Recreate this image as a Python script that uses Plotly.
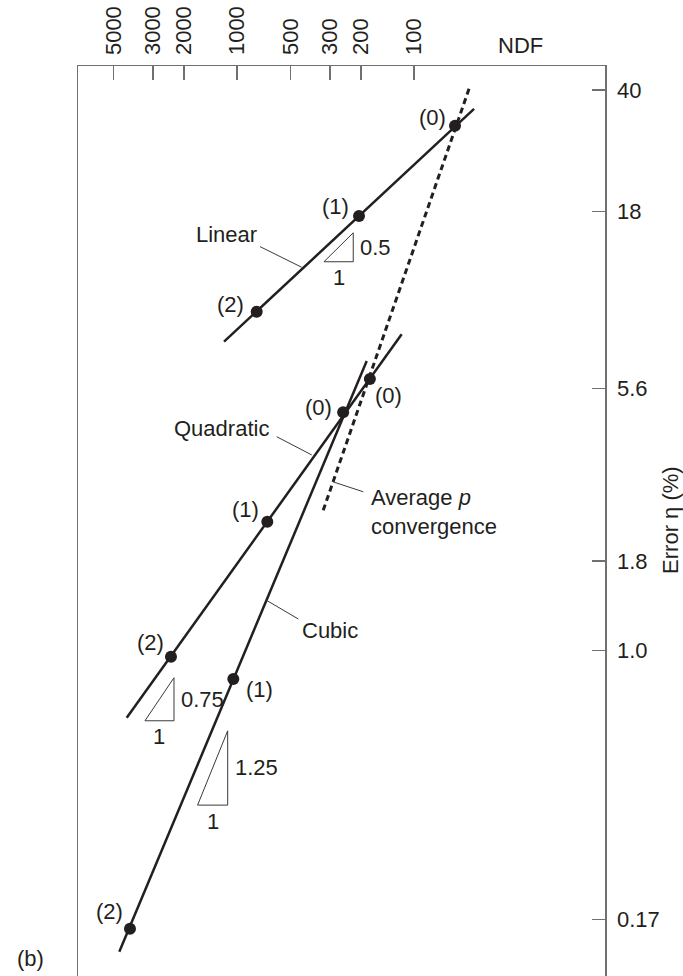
import numpy as np
import plotly.graph_objects as go

# ---------------- data ----------------
refinement_labels = ["(0)", "(1)", "(2)"]

linear_ndf = [58.8, 205, 776]
linear_err = [31.6, 17.45, 9.29]
quadratic_ndf = [178, 676, 2367]
quadratic_err = [5.97, 2.33, 0.959]
cubic_ndf = [252, 1052, 4035]
cubic_err = [4.79, 0.828, 0.160]

# extents of the drawn convergence lines
linear_line_ndf = [1187, 45.9]
linear_line_err = [7.63, 35.3]
quadratic_line_ndf = [4210, 117.7]
quadratic_line_err = [0.642, 8.01]
cubic_line_ndf = [4637, 185.5]
cubic_line_err = [0.1375, 6.72]
average_p_ndf = [49.0, 330.6]
average_p_err = [40.3, 2.47]

# asymptotic rates of convergence
slopes = [0.5, 0.75, 1.25]
slope_text = ["0.5", "0.75", "1.25"]

x_tick_vals = [5000, 3000, 2000, 1000, 500, 300, 200, 100]
x_tick_text = ["5000", "3000", "2000", "1000", "500", "300", "200", "100"]
y_tick_vals = [40, 18, 5.6, 1.8, 1.0, 0.17]
y_tick_text = ["40", "18", "5.6", "1.8", "1.0", "0.17"]

# ---------------- layout / styling ----------------
INK = "#231f20"
AXC = "#707070"
FONT = "Liberation Sans, Arial, sans-serif"
FS = 22

# slope triangle placement (right-angle corner, horizontal run in decades)
tri_corner_ndf = [221, 2276, 1132]
tri_corner_err = [12.91, 0.629, 0.361]
tri_run = [0.1655, 0.164, 0.17]

# leader lines [(ndf0, err0), (ndf1, err1)]
leaders = [
    ([743, 432], [14.26, 12.45]),     # Linear
    ([598, 379.5], [4.08, 3.62]),     # Quadratic
    ([286.5, 194], [3.03, 2.84]),     # Average p
    ([688, 451.7], [1.393, 1.229]),   # Cubic
]

# label offsets (px) for the refinement labels
lin_off = [(-23, 8), (-24, 9), (-26, 7)]
quad_off = [(19, -17), (-22, 12), (-20, 14)]
cub_off = [(-25, 5), (26, -10), (-20, 17)]

fig = go.Figure()

def line(xs, ys, width=2.5, dash=None, color=INK):
    fig.add_trace(go.Scatter(x=xs, y=ys, mode="lines",
                             line=dict(color=color, width=width, dash=dash),
                             hoverinfo="skip", showlegend=False))

# convergence lines
line(linear_line_ndf, linear_line_err)
line(quadratic_line_ndf, quadratic_line_err)
line(cubic_line_ndf, cubic_line_err)
line(average_p_ndf, average_p_err, width=3, dash="6px,4px")

# leader lines
for xs, ys in leaders:
    line(xs, ys, width=1, color="#3a3a3a")

# slope triangles
for c_x, c_y, run, s in zip(tri_corner_ndf, tri_corner_err, tri_run, slopes):
    xl = c_x * 10 ** run
    yt = c_y * 10 ** (s * run)
    line([xl, c_x, c_x, xl], [c_y, c_y, yt, c_y], width=1, color="#3a3a3a")

# points
for xs, ys in [(linear_ndf, linear_err), (quadratic_ndf, quadratic_err), (cubic_ndf, cubic_err)]:
    fig.add_trace(go.Scatter(x=xs, y=ys, mode="markers",
                             marker=dict(color=INK, size=12),
                             hoverinfo="skip", showlegend=False))

ann = []

def txt(x, y, text, xshift=0, yshift=0, xanchor="center", align="center"):
    ann.append(dict(x=np.log10(x), y=np.log10(y), xref="x", yref="y", text=text,
                    showarrow=False, xshift=xshift, yshift=yshift,
                    xanchor=xanchor, yanchor="middle", align=align,
                    font=dict(family=FONT, size=FS, color=INK)))

for xs, ys, offs in [(linear_ndf, linear_err, lin_off),
                     (quadratic_ndf, quadratic_err, quad_off),
                     (cubic_ndf, cubic_err, cub_off)]:
    for x, y, lab, (dx, dy) in zip(xs, ys, refinement_labels, offs):
        txt(x, y, lab, xshift=dx, yshift=dy)

txt(1147, 15.4, "Linear")
txt(1223, 4.31, "Quadratic")
txt(299, 1.136, "Cubic")
txt(179.4, 2.48, "Average <i>p</i><br>convergence", xanchor="left", align="left")

# slope labels
for c_x, c_y, run, s, st in zip(tri_corner_ndf, tri_corner_err, tri_run, slopes, slope_text):
    ann.append(dict(x=np.log10(c_x), y=np.log10(c_y) + s * run / 2, xref="x", yref="y",
                    text=st, showarrow=False, xanchor="left", yanchor="middle", xshift=5,
                    font=dict(family=FONT, size=FS, color=INK)))
    ann.append(dict(x=np.log10(c_x) + run / 2, y=np.log10(c_y), xref="x", yref="y",
                    text="1", showarrow=False, xanchor="center", yanchor="middle", yshift=-16,
                    font=dict(family=FONT, size=FS, color=INK)))

# axis titles and panel label
ann.append(dict(x=0.839, y=1.023, xref="paper", yref="paper", text="NDF", showarrow=False,
                xanchor="center", yanchor="middle", font=dict(family=FONT, size=FS, color=INK)))
ann.append(dict(x=1.123, y=0.501, xref="paper", yref="paper", text="Error η (%)", showarrow=False,
                textangle=-90, xanchor="center", yanchor="middle",
                font=dict(family=FONT, size=FS, color=INK)))
ann.append(dict(x=-0.091, y=0.003, xref="paper", yref="paper", text="(b)", showarrow=False,
                xanchor="center", yanchor="bottom", font=dict(family=FONT, size=FS, color=INK)))

fig.update_layout(
    width=683, height=976,
    margin=dict(l=78, r=78, t=66, b=0, autoexpand=False),
    paper_bgcolor="white", plot_bgcolor="white",
    annotations=ann,
    xaxis=dict(type="log", side="top", range=[3.8995, 0.922], autorange=False,
               automargin=False,
               tickvals=x_tick_vals, ticktext=x_tick_text, tickangle=-90,
               ticks="inside", ticklen=14, tickwidth=1.5, tickcolor=AXC,
               showline=True, linecolor=AXC, linewidth=1.5, mirror=False,
               showgrid=False, zeroline=False, ticklabelstandoff=5,
               tickfont=dict(family=FONT, size=FS, color=INK)),
    yaxis=dict(type="log", side="right", range=[-0.931, 1.6705], autorange=False,
               automargin=False,
               tickvals=y_tick_vals, ticktext=y_tick_text,
               ticks="inside", ticklen=13, tickwidth=1.5, tickcolor=AXC,
               showline=True, linecolor=AXC, linewidth=1.5, mirror=True,
               showgrid=False, zeroline=False, ticklabelstandoff=6,
               tickfont=dict(family=FONT, size=FS, color=INK)),
)

fig.write_html("out.html",
               config={"displayModeBar": False, "staticPlot": True},
               post_script="document.body.style.margin='0';document.body.style.overflow='hidden';")
